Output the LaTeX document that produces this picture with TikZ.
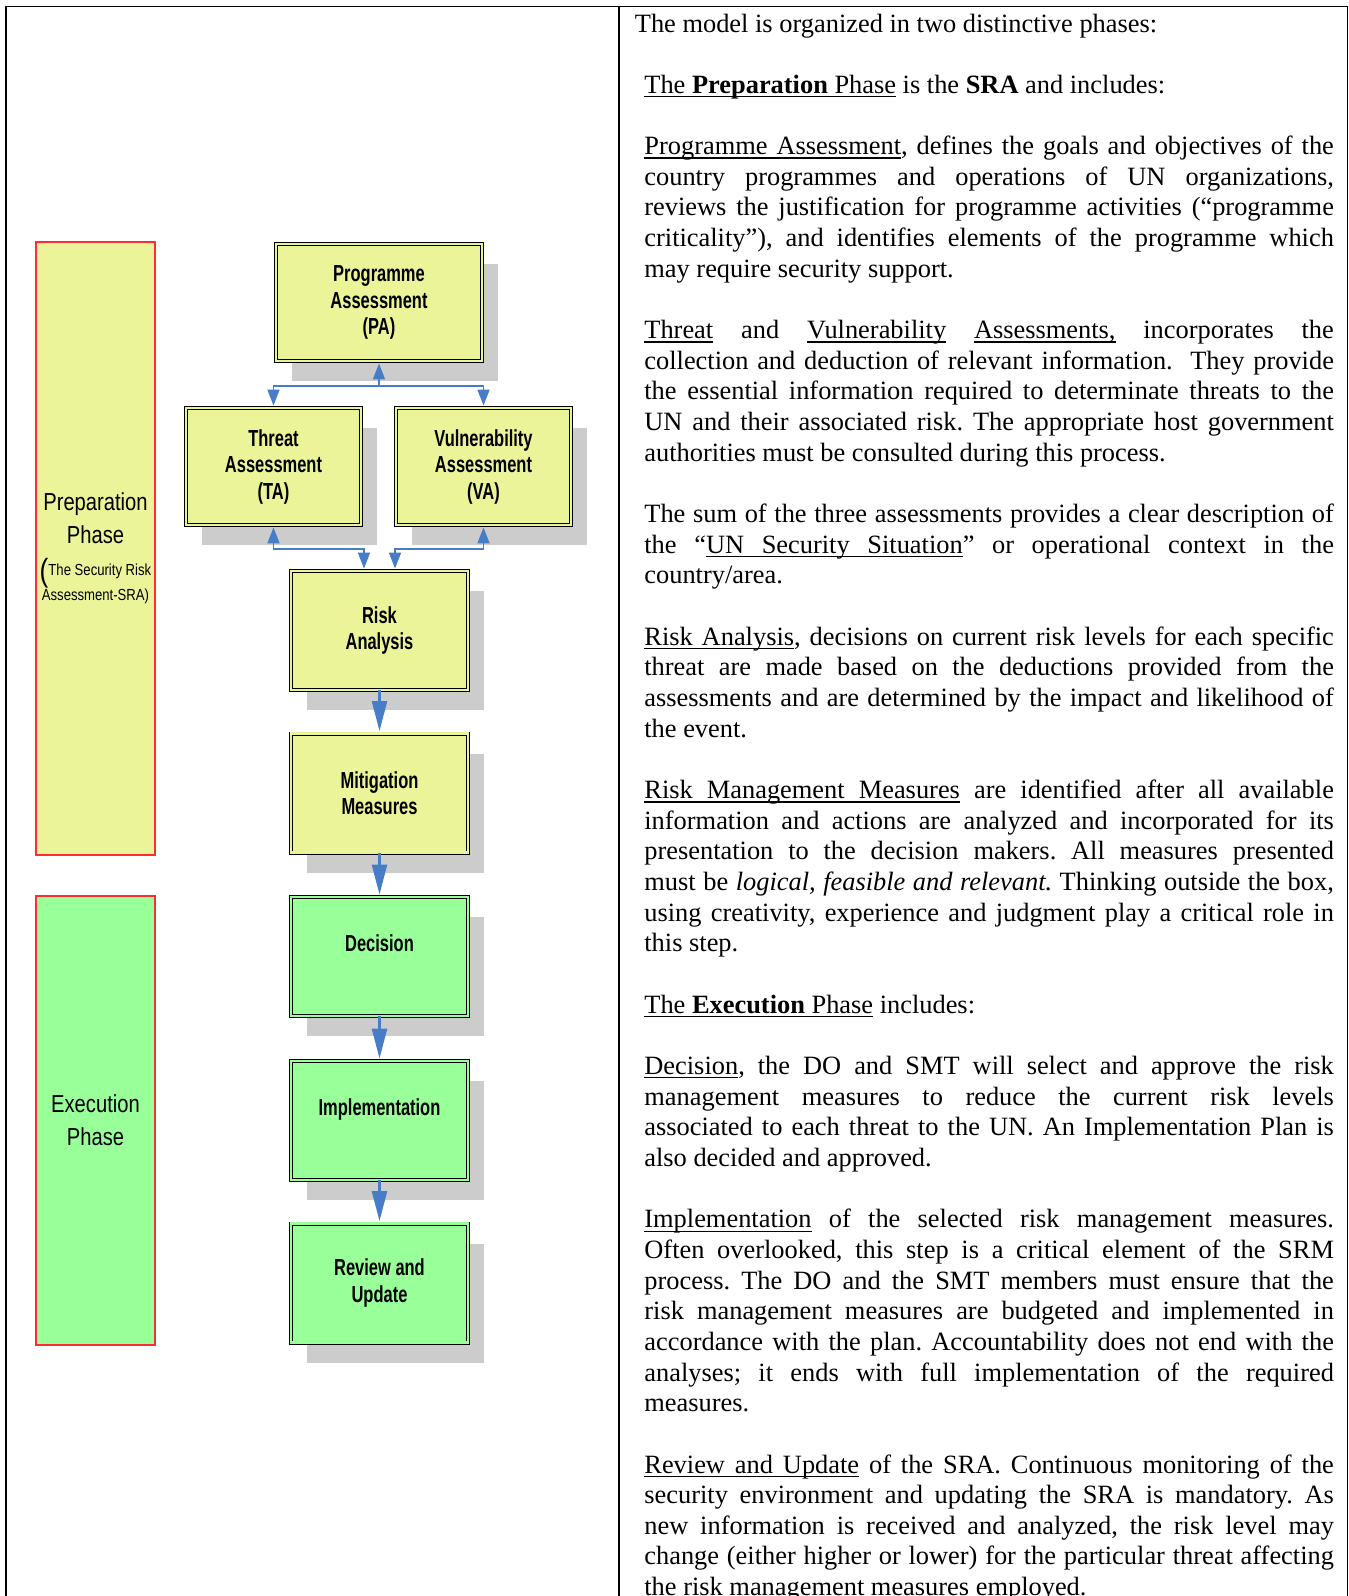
\documentclass[tikz,border=0pt]{standalone}
\usepackage{fontspec}
\setmainfont{Liberation Serif}
\newfontfamily\narrowfont[FakeStretch=0.82]{Liberation Sans}
\newfontfamily\condfont[FakeStretch=0.71]{Liberation Sans}
\usetikzlibrary{arrows.meta,shadows}

\definecolor{boxyellow}{RGB}{236,244,154}
\definecolor{boxgreen}{RGB}{153,255,153}
\definecolor{shadowgray}{RGB}{204,204,204}
\definecolor{linkblue}{RGB}{71,124,198}
\definecolor{phasered}{RGB}{255,45,45}

% lineas del texto de la derecha
\newcommand{\jline}[1]{\hbox to\hsize{#1}}
\newcommand{\lline}[1]{\hbox{#1}}
\newcommand{\blank}{\hbox{}}
% subrayado por palabra, con espacios que se estiran
\newcommand{\ulw}[1]{\setbox0\hbox{#1}\rlap{\vrule height -1.4pt depth 2pt width\wd0}\box0\relax}
\newcommand{\ulsp}{\leaders\hrule height -1.4pt depth 2pt\hskip\fontdimen2\font plus\fontdimen3\font minus\fontdimen4\font\relax}

\begin{document}
\begin{tikzpicture}[x=0.5pt,y=-0.5pt,
    stepbox/.style={draw=black, line width=0.45pt, double=boxyellow, double distance=1.1pt,
        fill=boxyellow, inner sep=0pt, align=center,
        font=\condfont\bfseries\fontsize{11.6}{13.25}\selectfont,
        drop shadow={shadow xshift=8pt, shadow yshift=-10pt, fill=shadowgray, opacity=1}},
    greenbox/.style={stepbox, fill=boxgreen, double=boxgreen},
    phasebox/.style={draw=phasered, line width=0.6pt, inner sep=0pt, align=center,
        minimum width=59.5pt, font=\narrowfont\fontsize{12.3}{16.5}\selectfont},
    frame/.style={line width=0.9pt},
    link/.style={draw=linkblue, line width=0.9pt, >={Triangle[width=6pt,length=8pt]}},
    flow/.style={draw=linkblue, line width=1.2pt, -{Triangle[width=7.5pt,length=15pt]}, shorten >=1pt}]

    \useasboundingbox (0,0) rectangle (1349,1596);

    % marco de la tabla
    \draw[frame] (5.7,1600) -- (5.7,6.5) -- (1347.5,6.5) -- (1347.5,1600);
    \draw[frame] (619,6.5) -- (619,1600);

    % fases
    \node[phasebox, fill=boxyellow, minimum height=306.5pt] (prep) at (95.5,548.5)
        {Preparation\\Phase\\[-0.5pt]{\fontsize{8}{12.5}\selectfont\smash{\raisebox{-3pt}{\fontsize{16}{16}\selectfont(}}The Security Risk}\\[-4pt]{\fontsize{8}{12.5}\selectfont Assessment-SRA)}};
    \node[phasebox, fill=boxgreen, minimum height=224.5pt] (exec) at (95.5,1120.5) {Execution\\Phase};

    % pasos
    \node[stepbox, minimum width=103pt, minimum height=58.5pt] (pa) at (379,302.5) {Programme\\Assessment\\(PA)};
    \node[stepbox, minimum width=87.5pt, minimum height=58.5pt] (ta) at (273.5,466.5) {Threat\\Assessment\\(TA)};
    \node[stepbox, minimum width=87.5pt, minimum height=58.5pt] (va) at (483.5,466.5) {Vulnerability\\Assessment\\(VA)};
    \node[stepbox, minimum width=88.5pt, minimum height=59.5pt] (ra) at (379.5,630.5) {Risk\\Analysis};
    \node[stepbox, minimum width=88.5pt, minimum height=59.5pt] (mm) at (379.5,793) {Mitigation\\Measures};
    \node[greenbox, minimum width=88.5pt, minimum height=59.5pt] (dec) at (379.5,956.5) {Decision\\\phantom{D}};
    \node[greenbox, minimum width=88.5pt, minimum height=59.5pt] (imp) at (379.5,1120.5) {Implementation\\\phantom{I}};
    \node[greenbox, minimum width=88.5pt, minimum height=59.5pt] (ru) at (379.5,1283) {Review and\\Update};

    % conectores
    \coordinate (topbus) at (379,386);
    \coordinate (lowbus) at (379.5,549);
    \draw[link, <-, shorten <=1pt] (pa.south) -- (topbus);
    \draw[link, ->, shorten >=1pt] (topbus) -| (ta.north);
    \draw[link, ->, shorten >=1pt] (topbus) -| (va.north);
    \draw[link, <->, shorten <=1pt, shorten >=1pt] (ta.south) |- ([xshift=-7.75pt]lowbus) -- ([xshift=-7.75pt]ra.north);
    \draw[link, <->, shorten <=1pt, shorten >=1pt] (va.south) |- ([xshift=7.75pt]lowbus) -- ([xshift=7.75pt]ra.north);
    \foreach \a/\b in {ra/mm, mm/dec, dec/imp, imp/ru}
        \draw[flow] (\a.south) -- (\b.north);

    % texto
    \node[anchor=base west, inner sep=0pt] (desc) at (644,32) {\begin{minipage}[t]{344.75pt}
        \fontsize{13.2}{15.33}\selectfont\lineskiplimit=-20pt\frenchspacing
        \lline{\kern-4.75pt The model is organized in two distinctive phases:}
        \blank
        \lline{\ulw{The}\ulsp\ulw{\textbf{Preparation}}\ulsp\ulw{Phase} is the \textbf{SRA} and includes:}
        \blank
        \jline{\ulw{Programme}\ulsp\ulw{Assessment}, defines the goals and objectives of the}
        \jline{country programmes and operations of UN organizations,}
        \jline{reviews the justification for programme activities (``programme}
        \jline{criticality''), and identifies elements of the programme which}
        \lline{may require security support.}
        \blank
        \jline{\ulw{Threat} and \ulw{Vulnerability} \ulw{Assessments,} incorporates the}
        \jline{collection and deduction of relevant information.\ \ They provide}
        \jline{the essential information required to determinate threats to the}
        \jline{UN and their associated risk. The appropriate host government}
        \lline{authorities must be consulted during this process.}
        \blank
        \jline{The sum of the three assessments provides a clear description of}
        \jline{the ``\ulw{UN}\ulsp\ulw{Security}\ulsp\ulw{Situation}'' or operational context in the}
        \lline{country/area.}
        \blank
        \jline{\ulw{Risk}\ulsp\ulw{Analysis}, decisions on current risk levels for each specific}
        \jline{threat are made based on the deductions provided from the}
        \jline{assessments and are determined by the impact and likelihood of}
        \lline{the event.}
        \blank
        \jline{\ulw{Risk}\ulsp\ulw{Management}\ulsp\ulw{Measures} are identified after all available}
        \jline{information and actions are analyzed and incorporated for its}
        \jline{presentation to the decision makers. All measures presented}
        \jline{must be \textit{logical, feasible and relevant.} Thinking outside the box,}
        \jline{using creativity, experience and judgment play a critical role in}
        \lline{this step.}
        \blank
        \lline{\ulw{The}\ulsp\ulw{\textbf{Execution}}\ulsp\ulw{Phase} includes:}
        \blank
        \jline{\ulw{Decision}, the DO and SMT will select and approve the risk}
        \jline{management measures to reduce the current risk levels}
        \jline{associated to each threat to the UN. An Implementation Plan is}
        \lline{also decided and approved.}
        \blank
        \jline{\ulw{Implementation} of the selected risk management measures.}
        \jline{Often overlooked, this step is a critical element of the SRM}
        \jline{process. The DO and the SMT members must ensure that the}
        \jline{risk management measures are budgeted and implemented in}
        \jline{accordance with the plan. Accountability does not end with the}
        \jline{analyses; it ends with full implementation of the required}
        \lline{measures.}
        \blank
        \jline{\ulw{Review}\ulsp\ulw{and}\ulsp\ulw{Update} of the SRA. Continuous monitoring of the}
        \jline{security environment and updating the SRA is mandatory. As}
        \jline{new information is received and analyzed, the risk level may}
        \jline{change (either higher or lower) for the particular threat affecting}
        \lline{the risk management measures employed.}
    \end{minipage}};
\end{tikzpicture}
\end{document}
